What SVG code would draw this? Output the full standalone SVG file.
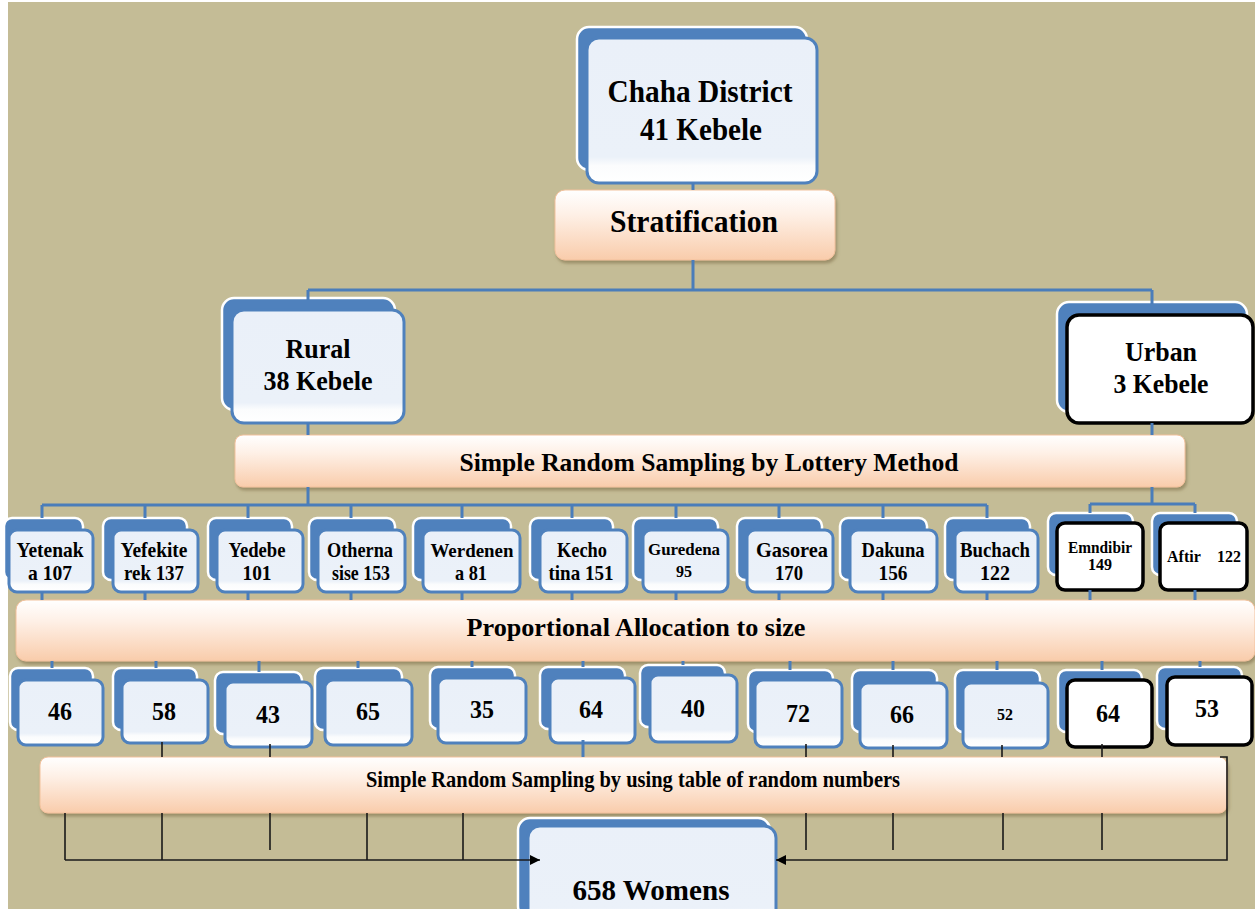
<svg xmlns="http://www.w3.org/2000/svg" width="1255" height="909" viewBox="0 0 1255 909">
<style>
text{font-family:"Liberation Serif","Times New Roman",serif;font-weight:bold;fill:#000;text-anchor:middle}
.back{fill:#4F81BD;stroke:#fff;stroke-width:2.5}
.front{fill:url(#fg);stroke:#4F81BD;stroke-width:3}
.ufront{fill:#fff;stroke:#000;stroke-width:3.5}
.bar{fill:url(#pg);stroke:#F2C19C;stroke-width:1;filter:url(#sh)}
.bl{fill:none;stroke:#4A7DBA;stroke-width:3}
.k{fill:none;stroke:#1a1a1a;stroke-width:1.6}
.t30{font-size:31px}.t26{font-size:27px}.t24{font-size:26px}.t19{font-size:21px}.t16{font-size:16px}
</style>
<defs>
<linearGradient id="fg" x1="0" y1="0" x2="0" y2="1">
<stop offset="0" stop-color="#EAF0F9"/><stop offset="0.82" stop-color="#EBF1F9"/><stop offset="0.88" stop-color="#FBFCFD"/><stop offset="1" stop-color="#FFFFFF"/>
</linearGradient>
<linearGradient id="pg" x1="0" y1="0" x2="0" y2="1">
<stop offset="0" stop-color="#FFFFFF"/><stop offset="0.35" stop-color="#FEF0E6"/><stop offset="1" stop-color="#F9CCAB"/>
</linearGradient>
<filter id="sh" x="-5%" y="-20%" width="110%" height="150%">
<feDropShadow dx="1.5" dy="3" stdDeviation="1.5" flood-color="#7a6a45" flood-opacity="0.55"/>
</filter>
<marker id="ah" viewBox="0 0 10 10" refX="10" refY="5" markerWidth="10" markerHeight="10" markerUnits="userSpaceOnUse" orient="auto">
<path d="M0,0 L10,5 L0,10 z" fill="#000"/>
</marker>
</defs>
<rect x="0" y="0" width="1255" height="909" fill="#fff"/>
<rect x="8" y="2" width="1247" height="907" fill="#C4BC96"/>

<g id="chaha">
<rect class="back" x="577" y="27" width="230" height="143" rx="12"/>
<rect class="front" x="587" y="38" width="230" height="145" rx="12"/>
<text class="t30" x="700" y="102" textLength="185" lengthAdjust="spacingAndGlyphs">Chaha District</text>
<text class="t30" x="701" y="140" textLength="122" lengthAdjust="spacingAndGlyphs">41 Kebele</text>
</g>
<g id="stratification">
<rect class="bar" x="555" y="190" width="280" height="70" rx="10"/>
<text class="t30" x="694" y="232" textLength="168" lengthAdjust="spacingAndGlyphs">Stratification</text>
</g>
<g id="rural">
<rect class="back" x="222" y="298" width="173" height="112" rx="12"/>
<rect class="front" x="232" y="310" width="172" height="113" rx="12"/>
<text class="t26" x="318" y="358" textLength="65" lengthAdjust="spacingAndGlyphs">Rural</text>
<text class="t26" x="318" y="390" textLength="109" lengthAdjust="spacingAndGlyphs">38 Kebele</text>
</g>
<g id="urban">
<rect class="back" x="1057" y="302" width="190" height="110" rx="12"/>
<rect class="ufront" x="1067" y="315" width="186" height="108" rx="12"/>
<text class="t26" x="1161" y="361" textLength="72" lengthAdjust="spacingAndGlyphs">Urban</text>
<text class="t26" x="1161" y="393" textLength="95" lengthAdjust="spacingAndGlyphs">3 Kebele</text>
</g>
<g id="srs-lottery">
<rect class="bar" x="235" y="435" width="950" height="52" rx="8"/>
<text x="709" y="471" font-size="26" textLength="499" lengthAdjust="spacingAndGlyphs">Simple Random Sampling by Lottery Method</text>
</g>

<g id="yetenaka">
<rect class="back" x="4" y="518" width="79" height="62" rx="8"/>
<rect class="front" x="9" y="530" width="84" height="62" rx="8"/>
<text class="t19" x="50" y="557" textLength="67" lengthAdjust="spacingAndGlyphs">Yetenak</text><text class="t19" x="50" y="580" textLength="44" lengthAdjust="spacingAndGlyphs">a 107</text>
</g>
<g id="yefekiterek">
<rect class="back" x="103" y="518" width="84" height="62" rx="8"/>
<rect class="front" x="113" y="530" width="85" height="62" rx="8"/>
<text class="t19" x="154" y="557" textLength="67" lengthAdjust="spacingAndGlyphs">Yefekite</text><text class="t19" x="154" y="580" textLength="60" lengthAdjust="spacingAndGlyphs">rek 137</text>
</g>
<g id="yedebe">
<rect class="back" x="208" y="518" width="84" height="62" rx="8"/>
<rect class="front" x="217" y="530" width="86" height="62" rx="8"/>
<text class="t19" x="257" y="557" textLength="57" lengthAdjust="spacingAndGlyphs">Yedebe</text><text class="t19" x="257" y="580" textLength="29" lengthAdjust="spacingAndGlyphs">101</text>
</g>
<g id="othernasise">
<rect class="back" x="309" y="518" width="86" height="62" rx="8"/>
<rect class="front" x="318" y="530" width="87" height="62" rx="8"/>
<text class="t19" x="360" y="557" textLength="66" lengthAdjust="spacingAndGlyphs">Otherna</text><text class="t19" x="361" y="580" textLength="58" lengthAdjust="spacingAndGlyphs">sise 153</text>
</g>
<g id="werdenena">
<rect class="back" x="413" y="518" width="98" height="62" rx="8"/>
<rect class="front" x="423" y="530" width="97" height="62" rx="8"/>
<text x="472" y="557" font-size="18" textLength="83" lengthAdjust="spacingAndGlyphs">Werdenen</text><text class="t19" x="471" y="580" textLength="32" lengthAdjust="spacingAndGlyphs">a 81</text>
</g>
<g id="kechotina">
<rect class="back" x="530" y="518" width="83" height="62" rx="8"/>
<rect class="front" x="540" y="530" width="87" height="62" rx="8"/>
<text class="t19" x="582" y="557" textLength="50" lengthAdjust="spacingAndGlyphs">Kecho</text><text class="t19" x="581" y="580" textLength="65" lengthAdjust="spacingAndGlyphs">tina 151</text>
</g>
<g id="guredena">
<rect class="back" x="633" y="518" width="85" height="62" rx="8"/>
<rect class="front" x="643" y="530" width="85" height="62" rx="8"/>
<text x="684" y="555" font-size="17" textLength="72" lengthAdjust="spacingAndGlyphs">Guredena</text><text class="t16" x="684" y="577">95</text>
</g>
<g id="gasorea">
<rect class="back" x="737" y="518" width="85" height="62" rx="8"/>
<rect class="front" x="747" y="530" width="86" height="62" rx="8"/>
<text class="t19" x="792" y="557" textLength="72" lengthAdjust="spacingAndGlyphs">Gasorea</text><text class="t19" x="789" y="580" textLength="28" lengthAdjust="spacingAndGlyphs">170</text>
</g>
<g id="dakuna">
<rect class="back" x="840" y="518" width="87" height="62" rx="8"/>
<rect class="front" x="850" y="530" width="87" height="62" rx="8"/>
<text class="t19" x="893" y="557" textLength="63" lengthAdjust="spacingAndGlyphs">Dakuna</text><text class="t19" x="893" y="580" textLength="29" lengthAdjust="spacingAndGlyphs">156</text>
</g>
<g id="buchach">
<rect class="back" x="945" y="518" width="85" height="62" rx="8"/>
<rect class="front" x="955" y="530" width="83" height="62" rx="8"/>
<text class="t19" x="995" y="557" textLength="70" lengthAdjust="spacingAndGlyphs">Buchach</text><text class="t19" x="995" y="580" textLength="30" lengthAdjust="spacingAndGlyphs">122</text>
</g>
<g id="emndibir">
<rect class="back" x="1048" y="513" width="85" height="62" rx="8"/>
<rect class="ufront" x="1057" y="523" width="86" height="67" rx="8"/>
<text x="1100" y="553" font-size="16" textLength="64" lengthAdjust="spacingAndGlyphs">Emndibir</text><text class="t16" x="1100" y="570">149</text>
</g>
<g id="aftir">
<rect class="back" x="1152" y="513" width="85" height="62" rx="8"/>
<rect class="ufront" x="1160" y="523" width="87" height="67" rx="8"/>
<text x="1204" y="562" font-size="16" textLength="74" lengthAdjust="spacing" xml:space="preserve">Aftir    122</text>
</g>

<g id="proportional">
<rect class="bar" x="16" y="600" width="1239" height="61" rx="10"/>
<text x="636" y="636" font-size="26" textLength="339" lengthAdjust="spacingAndGlyphs">Proportional Allocation to size</text>
</g>

<g id="n46"><rect class="back" x="10" y="668" width="83" height="62" rx="8"/><rect class="front" x="18" y="680" width="85" height="65" rx="8"/><text class="t24" x="60" y="720" textLength="24" lengthAdjust="spacingAndGlyphs">46</text></g>
<g id="n58"><rect class="back" x="113" y="668" width="84" height="62" rx="8"/><rect class="front" x="122" y="680" width="86" height="63" rx="8"/><text class="t24" x="164" y="720" textLength="24" lengthAdjust="spacingAndGlyphs">58</text></g>
<g id="n43"><rect class="back" x="215" y="672" width="87" height="62" rx="8"/><rect class="front" x="225" y="682" width="87" height="65" rx="8"/><text class="t24" x="268" y="723" textLength="24" lengthAdjust="spacingAndGlyphs">43</text></g>
<g id="n65"><rect class="back" x="315" y="668" width="87" height="62" rx="8"/><rect class="front" x="325" y="680" width="87" height="65" rx="8"/><text class="t24" x="368" y="720" textLength="24" lengthAdjust="spacingAndGlyphs">65</text></g>
<g id="n35"><rect class="back" x="430" y="667" width="85" height="62" rx="8"/><rect class="front" x="438" y="678" width="88" height="65" rx="8"/><text class="t24" x="482" y="718" textLength="24" lengthAdjust="spacingAndGlyphs">35</text></g>
<g id="n64a"><rect class="back" x="540" y="667" width="85" height="62" rx="8"/><rect class="front" x="550" y="678" width="85" height="65" rx="8"/><text class="t24" x="591" y="718" textLength="24" lengthAdjust="spacingAndGlyphs">64</text></g>
<g id="n40"><rect class="back" x="640" y="665" width="85" height="62" rx="8"/><rect class="front" x="650" y="675" width="87" height="67" rx="8"/><text class="t24" x="693" y="717" textLength="24" lengthAdjust="spacingAndGlyphs">40</text></g>
<g id="n72"><rect class="back" x="748" y="670" width="85" height="62" rx="8"/><rect class="front" x="755" y="680" width="87" height="67" rx="8"/><text class="t24" x="798" y="722" textLength="24" lengthAdjust="spacingAndGlyphs">72</text></g>
<g id="n66"><rect class="back" x="852" y="670" width="85" height="62" rx="8"/><rect class="front" x="860" y="683" width="87" height="65" rx="8"/><text class="t24" x="902" y="723" textLength="24" lengthAdjust="spacingAndGlyphs">66</text></g>
<g id="n52"><rect class="back" x="955" y="670" width="85" height="62" rx="8"/><rect class="front" x="963" y="683" width="85" height="65" rx="8"/><text class="t16" x="1005" y="720">52</text></g>
<g id="n64b"><rect class="back" x="1058" y="670" width="84" height="62" rx="8"/><rect class="ufront" x="1067" y="680" width="85" height="67" rx="8"/><text class="t24" x="1108" y="722" textLength="24" lengthAdjust="spacingAndGlyphs">64</text></g>
<g id="n53"><rect class="back" x="1157" y="667" width="85" height="62" rx="8"/><rect class="ufront" x="1167" y="677" width="85" height="68" rx="8"/><text class="t24" x="1207" y="717" textLength="24" lengthAdjust="spacingAndGlyphs">53</text></g>

<g id="srs-table">
<rect class="bar" x="40" y="757" width="1187" height="56" rx="8"/>
<text x="633" y="787" font-size="23" textLength="534" lengthAdjust="spacingAndGlyphs">Simple Random Sampling by using table of random numbers</text>
</g>

<g id="women">
<rect class="back" x="518" y="818" width="252" height="100" rx="12"/>
<rect class="front" x="528" y="826" width="248" height="100" rx="12"/>
<text x="651" y="900" font-size="29" textLength="157" lengthAdjust="spacingAndGlyphs">658 Womens</text>
</g>

<g id="connectors">
<path class="bl" d="M693 183V190M693 260V290M308 290H1152M308 290V300M1152 290V304"/>
<path class="bl" d="M308 423V435M1152 423V435"/>
<path class="bl" d="M308 487V505M42 505H987M42 505V518M145 505V518M248 505V518M351 505V518M462 505V518M572 505V518M676 505V518M779 505V518M883 505V518M987 505V518"/>
<path class="bl" d="M1152 487V504M1090 504H1195M1090 504V513M1195 504V513"/>
<path class="bl" d="M42 592V600M145 592V600M248 592V600M351 592V600M462 592V600M572 592V600M676 592V600M779 592V600M883 592V600M987 592V600M1090 590V600M1195 590V600" stroke-width="2"/>
<path class="bl" d="M52 661V668M156 661V668M259 661V672M358 661V668M472 661V667M583 661V667M683 661V665M790 661V670M893 661V670M997 661V670M1102 661V670M1200 661V667" stroke-width="2"/>
<path class="k" d="M162 742V757M270 744V757M806 744V757M893 745V757M1002 745V757M1102 744V757"/>
<path class="bl" d="M583 740V757" stroke-width="2"/>
<path class="k" d="M65 813V860M162 813V860M367 813V860M463 813V860M270 813V850M806 813V850M893 813V850M1003 813V850M1102 813V850"/>
<path class="k" d="M65 860H540" marker-end="url(#ah)"/>
<path class="k" d="M1220 757H1227V860H776" marker-end="url(#ah)"/>
</g>
</svg>
